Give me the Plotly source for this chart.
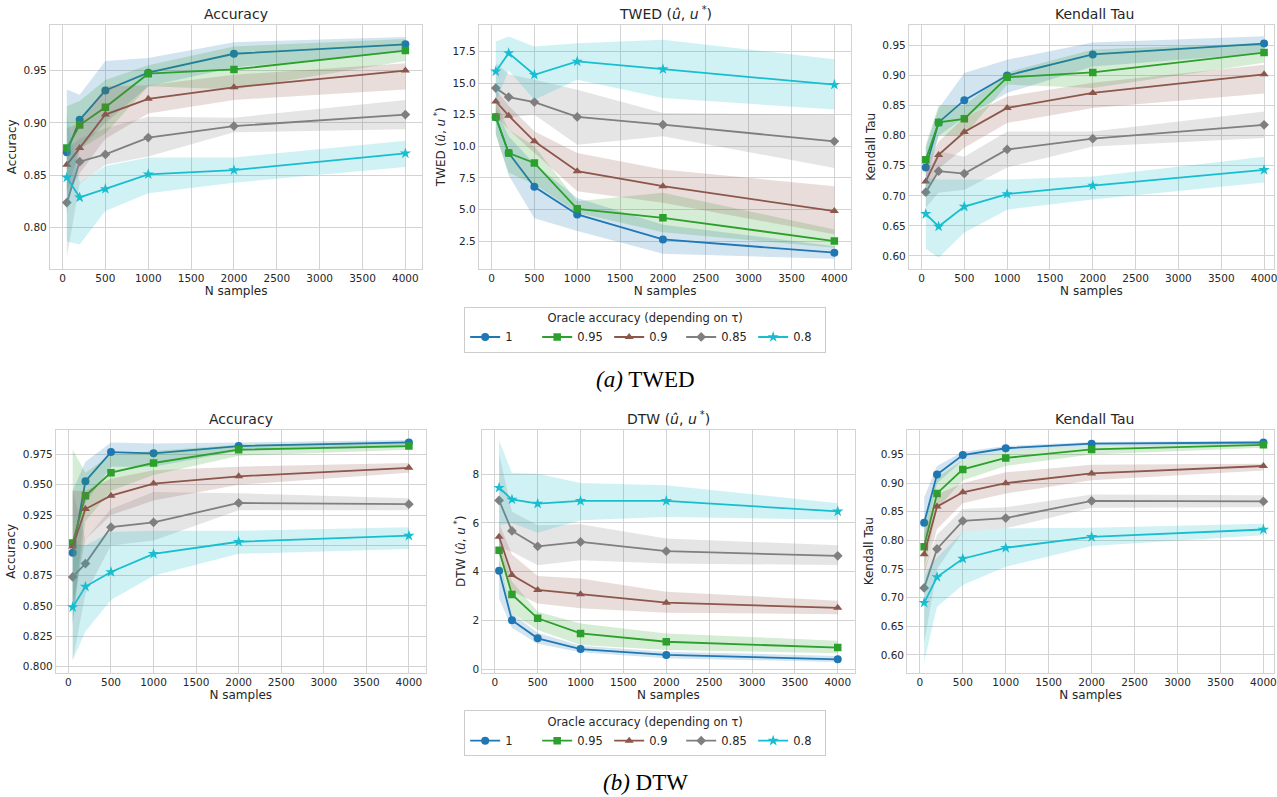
import plotly.graph_objects as go

# ---------------- data ----------------
N_SAMPLES = [50, 200, 500, 1000, 2000, 4000]
ORACLE_LABELS = ["1", "0.95", "0.9", "0.85", "0.8"]
X_TICKS = [0, 500, 1000, 1500, 2000, 2500, 3000, 3500, 4000]

# (a) TWED - Accuracy
TWED_ACC_MEAN = [
    [0.872, 0.903, 0.931, 0.948, 0.966, 0.975],
    [0.876, 0.898, 0.915, 0.947, 0.951, 0.969],
    [0.860, 0.876, 0.908, 0.923, 0.934, 0.950],
    [0.824, 0.863, 0.870, 0.886, 0.897, 0.908],
    [0.848, 0.829, 0.837, 0.851, 0.855, 0.871],
]
TWED_ACC_UPPER = [
    [0.932, 0.927, 0.959, 0.962, 0.977, 0.982],
    [0.916, 0.921, 0.941, 0.955, 0.973, 0.980],
    [0.895, 0.900, 0.935, 0.936, 0.946, 0.957],
    [0.875, 0.885, 0.895, 0.906, 0.905, 0.922],
    [0.909, 0.843, 0.859, 0.867, 0.867, 0.883],
]
TWED_ACC_LOWER = [
    [0.813, 0.875, 0.900, 0.935, 0.953, 0.968],
    [0.835, 0.875, 0.890, 0.935, 0.932, 0.959],
    [0.830, 0.852, 0.885, 0.909, 0.922, 0.932],
    [0.772, 0.842, 0.860, 0.868, 0.891, 0.894],
    [0.787, 0.784, 0.816, 0.833, 0.843, 0.858],
]
TWED_ACC_TICKS = [0.80, 0.85, 0.90, 0.95]

# (a) TWED - distance
TWED_DIST_MEAN = [
    [12.30, 9.47, 6.79, 4.61, 2.63, 1.58],
    [12.32, 9.47, 8.68, 5.05, 4.34, 2.50],
    [13.55, 12.42, 10.39, 8.03, 6.84, 4.87],
    [14.61, 13.89, 13.50, 12.32, 11.71, 10.39],
    [15.92, 17.37, 15.66, 16.71, 16.10, 14.87],
]
TWED_DIST_UPPER = [
    [13.0, 10.8, 8.6, 5.9, 3.8, 2.1],
    [13.5, 11.3, 10.0, 5.66, 6.32, 3.42],
    [14.5, 13.2, 11.18, 9.47, 8.16, 6.84],
    [16.58, 15.7, 15.26, 14.47, 12.63, 12.5],
    [18.29, 18.68, 17.9, 18.16, 18.42, 16.89],
]
TWED_DIST_LOWER = [
    [11.0, 7.7, 4.3, 3.3, 1.5, 1.1],
    [10.9, 7.9, 7.0, 4.74, 3.2, 1.97],
    [12.4, 11.3, 9.47, 6.45, 5.53, 3.03],
    [12.0, 12.3, 12.5, 10.13, 10.79, 8.29],
    [13.5, 16.0, 13.68, 15.26, 13.82, 12.9],
]
TWED_DIST_TICKS = [2.5, 5.0, 7.5, 10.0, 12.5, 15.0, 17.5]

# (a) TWED - Kendall Tau
TWED_KT_MEAN = [
    [0.747, 0.822, 0.859, 0.900, 0.935, 0.953],
    [0.760, 0.822, 0.828, 0.897, 0.905, 0.938],
    [0.724, 0.768, 0.806, 0.846, 0.871, 0.902],
    [0.706, 0.741, 0.737, 0.777, 0.795, 0.818],
    [0.670, 0.649, 0.682, 0.703, 0.717, 0.743],
]
TWED_KT_UPPER = [
    [0.780, 0.845, 0.904, 0.926, 0.955, 0.965],
    [0.785, 0.850, 0.850, 0.905, 0.943, 0.954],
    [0.750, 0.790, 0.830, 0.865, 0.888, 0.918],
    [0.735, 0.774, 0.765, 0.807, 0.807, 0.840],
    [0.730, 0.727, 0.727, 0.727, 0.732, 0.765],
]
TWED_KT_LOWER = [
    [0.715, 0.800, 0.830, 0.871, 0.915, 0.937],
    [0.735, 0.800, 0.800, 0.885, 0.879, 0.921],
    [0.700, 0.745, 0.780, 0.821, 0.846, 0.870],
    [0.680, 0.705, 0.710, 0.747, 0.782, 0.796],
    [0.612, 0.597, 0.639, 0.677, 0.694, 0.722],
]
KT_TICKS = [0.60, 0.65, 0.70, 0.75, 0.80, 0.85, 0.90, 0.95]

# (b) DTW - Accuracy
DTW_ACC_MEAN = [
    [0.894, 0.953, 0.977, 0.976, 0.982, 0.985],
    [0.902, 0.941, 0.960, 0.968, 0.979, 0.982],
    [0.899, 0.930, 0.941, 0.951, 0.957, 0.964],
    [0.874, 0.885, 0.915, 0.919, 0.935, 0.934],
    [0.849, 0.866, 0.878, 0.893, 0.903, 0.908],
]
DTW_ACC_UPPER = [
    [0.945, 0.969, 0.985, 0.984, 0.985, 0.987],
    [0.979, 0.960, 0.975, 0.978, 0.983, 0.985],
    [0.945, 0.945, 0.955, 0.962, 0.965, 0.968],
    [0.945, 0.905, 0.930, 0.944, 0.943, 0.939],
    [0.900, 0.900, 0.911, 0.912, 0.912, 0.915],
]
DTW_ACC_LOWER = [
    [0.835, 0.935, 0.965, 0.965, 0.978, 0.981],
    [0.835, 0.920, 0.945, 0.958, 0.974, 0.979],
    [0.850, 0.905, 0.925, 0.937, 0.950, 0.960],
    [0.805, 0.860, 0.900, 0.904, 0.929, 0.929],
    [0.805, 0.829, 0.855, 0.875, 0.893, 0.897],
]
DTW_ACC_TICKS = [0.800, 0.825, 0.850, 0.875, 0.900, 0.925, 0.950, 0.975]

# (b) DTW - distance
DTW_DIST_MEAN = [
    [4.04, 2.01, 1.27, 0.83, 0.59, 0.41],
    [4.88, 3.07, 2.09, 1.47, 1.13, 0.89],
    [5.43, 3.86, 3.25, 3.08, 2.73, 2.52],
    [6.92, 5.67, 5.04, 5.22, 4.84, 4.65],
    [7.44, 6.96, 6.79, 6.90, 6.90, 6.47],
]
DTW_DIST_UPPER = [
    [4.5, 2.3, 1.5, 0.97, 0.72, 0.55],
    [5.3, 3.6, 2.36, 1.88, 1.47, 1.17],
    [6.0, 4.7, 3.82, 3.72, 3.18, 2.81],
    [8.83, 6.46, 5.9, 5.94, 5.36, 5.08],
    [9.38, 8.04, 8.01, 7.63, 7.54, 6.81],
]
DTW_DIST_LOWER = [
    [2.9, 1.7, 1.05, 0.70, 0.45, 0.30],
    [4.3, 2.3, 1.61, 1.0, 0.79, 0.66],
    [4.7, 3.2, 2.70, 2.50, 2.32, 2.26],
    [5.0, 4.82, 4.26, 4.47, 4.34, 4.27],
    [5.9, 6.0, 5.6, 6.11, 6.24, 6.13],
]
DTW_DIST_TICKS = [0, 2, 4, 6, 8]

# (b) DTW - Kendall Tau
DTW_KT_MEAN = [
    [0.831, 0.915, 0.949, 0.961, 0.969, 0.971],
    [0.789, 0.882, 0.924, 0.944, 0.959, 0.967],
    [0.776, 0.859, 0.884, 0.900, 0.917, 0.930],
    [0.717, 0.785, 0.834, 0.839, 0.869, 0.868],
    [0.691, 0.736, 0.768, 0.787, 0.806, 0.819],
]
DTW_KT_UPPER = [
    [0.875, 0.930, 0.955, 0.965, 0.972, 0.974],
    [0.825, 0.910, 0.940, 0.955, 0.965, 0.970],
    [0.810, 0.880, 0.900, 0.919, 0.932, 0.934],
    [0.750, 0.810, 0.855, 0.858, 0.880, 0.879],
    [0.740, 0.770, 0.815, 0.821, 0.822, 0.829],
]
DTW_KT_LOWER = [
    [0.790, 0.900, 0.940, 0.955, 0.965, 0.968],
    [0.750, 0.855, 0.905, 0.930, 0.950, 0.962],
    [0.740, 0.820, 0.865, 0.882, 0.905, 0.922],
    [0.620, 0.750, 0.815, 0.821, 0.857, 0.858],
    [0.588, 0.684, 0.722, 0.754, 0.790, 0.809],
]

# ---------------- style ----------------
W, H = 1277, 797
COLORS = ["#1f77b4", "#2ca02c", "#8c564b", "#7f7f7f", "#17becf"]
FILLS = ["rgba(31,119,180,0.2)", "rgba(44,160,44,0.2)", "rgba(140,86,75,0.2)",
         "rgba(127,127,127,0.2)", "rgba(23,190,207,0.2)"]
SYMBOLS = ["circle", "square", "triangle-up", "diamond", "star"]
SIZES = [8, 7.5, 8, 7.5, 8.5]
FONT = "DejaVu Sans, Verdana, sans-serif"
TXT = "#262626"
GRID = "#d3d3d3"
TICK_SIZE = 10.5
LABEL_SIZE = 12
TITLE_SIZE = 14

panels = [
    dict(mean=TWED_ACC_MEAN, up=TWED_ACC_UPPER, lo=TWED_ACC_LOWER, title="Accuracy",
         ylabel="Accuracy", ticks=TWED_ACC_TICKS, fmt=".2f",
         px=(50, 423.3), py=(25, 269.3), xr=[-147.5, 4197.5], yr=[0.761, 0.9935], legend="legend"),
    dict(mean=TWED_DIST_MEAN, up=TWED_DIST_UPPER, lo=TWED_DIST_LOWER,
         title="TWED (<i>û</i>, <i>u</i><sup> *</sup>)", ylabel="TWED (<i>û</i>, <i>u</i><sup> *</sup>)",
         ticks=TWED_DIST_TICKS, fmt=".1f",
         px=(480, 853.3), py=(25, 269.3), xr=[-147.5, 4197.5], yr=[0.32, 19.6], legend=None),
    dict(mean=TWED_KT_MEAN, up=TWED_KT_UPPER, lo=TWED_KT_LOWER, title="Kendall Tau",
         ylabel="Kendall Tau", ticks=KT_TICKS, fmt=".2f",
         px=(911, 1277), py=(25, 269.3), xr=[-147.5, 4116], yr=[0.579, 0.984], legend=None),
    dict(mean=DTW_ACC_MEAN, up=DTW_ACC_UPPER, lo=DTW_ACC_LOWER, title="Accuracy",
         ylabel="Accuracy", ticks=DTW_ACC_TICKS, fmt=".3f",
         px=(56, 426.7), py=(431, 674.3), xr=[-147.5, 4197.5], yr=[0.795, 0.9953], legend="legend2"),
    dict(mean=DTW_DIST_MEAN, up=DTW_DIST_UPPER, lo=DTW_DIST_LOWER,
         title="DTW (<i>û</i>, <i>u</i><sup> *</sup>)", ylabel="DTW (<i>û</i>, <i>u</i><sup> *</sup>)",
         ticks=DTW_DIST_TICKS, fmt="d",
         px=(483.3, 856.7), py=(431, 674.3), xr=[-147.5, 4197.5], yr=[-0.135, 9.81], legend=None),
    dict(mean=DTW_KT_MEAN, up=DTW_KT_UPPER, lo=DTW_KT_LOWER, title="Kendall Tau",
         ylabel="Kendall Tau", ticks=KT_TICKS, fmt=".2f",
         px=(909.3, 1277), py=(431, 674.3), xr=[-147.5, 4123], yr=[0.569, 0.993], legend=None),
]

fig = go.Figure()
layout = {}
annotations = []

for i, p in enumerate(panels):
    n = i + 1
    xa = "x" if n == 1 else f"x{n}"
    ya = "y" if n == 1 else f"y{n}"
    for s in range(5):
        xs = N_SAMPLES + N_SAMPLES[::-1]
        ys = p["up"][s] + p["lo"][s][::-1]
        fig.add_trace(go.Scatter(x=xs, y=ys, xaxis=xa, yaxis=ya, fill="toself",
                                 fillcolor=FILLS[s], line=dict(width=0), mode="lines",
                                 hoverinfo="skip", showlegend=False))
        tr = dict(x=N_SAMPLES, y=p["mean"][s], xaxis=xa, yaxis=ya, mode="lines+markers",
                  name=ORACLE_LABELS[s],
                  line=dict(color=COLORS[s], width=1.8),
                  marker=dict(symbol=SYMBOLS[s], size=SIZES[s], color=COLORS[s]))
        if p["legend"]:
            tr["legend"] = p["legend"]
            tr["showlegend"] = True
        else:
            tr["showlegend"] = False
        fig.add_trace(go.Scatter(**tr))

    xdom = [p["px"][0] / W, min(p["px"][1] / W, 1.0)]
    ydom = [1 - p["py"][1] / H, 1 - p["py"][0] / H]
    xkey = "xaxis" if n == 1 else f"xaxis{n}"
    ykey = "yaxis" if n == 1 else f"yaxis{n}"
    layout[xkey] = dict(domain=xdom, range=p["xr"], anchor=ya, tickmode="array",
                        tickvals=X_TICKS, showgrid=True, gridcolor=GRID, gridwidth=1,
                        zeroline=False, showline=True, mirror=True, linecolor=GRID, linewidth=1,
                        ticks="", ticklabeloverflow="allow",
                        tickfont=dict(size=TICK_SIZE, color=TXT, family=FONT),
                        title=dict(text="N samples", font=dict(size=LABEL_SIZE, color=TXT, family=FONT),
                                   standoff=1))
    layout[ykey] = dict(domain=ydom, range=p["yr"], anchor=xa, tickmode="array",
                        tickvals=p["ticks"], tickformat=p["fmt"], showgrid=True, gridcolor=GRID,
                        gridwidth=1, zeroline=False, showline=True, mirror=True, linecolor=GRID,
                        linewidth=1, ticks="", tickfont=dict(size=TICK_SIZE, color=TXT, family=FONT),
                        title=dict(text=p["ylabel"], font=dict(size=LABEL_SIZE, color=TXT, family=FONT),
                                   standoff=4))
    right_px = 1284 if n in (3, 6) else p["px"][1]
    annotations.append(dict(text=p["title"], xref="paper", yref="paper",
                            x=(p["px"][0] + right_px) / 2 / W,
                            y=ydom[1], xanchor="center", yanchor="bottom", yshift=1,
                            showarrow=False, font=dict(size=TITLE_SIZE, color=TXT, family=FONT)))

SERIF = "Liberation Serif, Times New Roman, serif"
annotations.append(dict(text="<i>(a)</i> TWED", xref="paper", yref="paper", x=646.7 / W,
                        y=1 - 380 / H, xanchor="center", yanchor="middle", showarrow=False,
                        font=dict(size=23, color="#000000", family=SERIF)))
annotations.append(dict(text="<i>(b)</i> DTW", xref="paper", yref="paper", x=646.7 / W,
                        y=1 - 784 / H, xanchor="center", yanchor="middle", showarrow=False,
                        font=dict(size=23, color="#000000", family=SERIF)))

legend_style = dict(orientation="h", xanchor="center", x=646.7 / W, yanchor="top",
                    bgcolor="white", bordercolor="#cccccc", borderwidth=1,
                    font=dict(size=11.5, color=TXT, family=FONT), itemwidth=30,
                    entrywidth=27, tracegroupgap=0,
                    title=dict(text="Oracle accuracy (depending on τ)", side="top center",
                               font=dict(size=11.5, color=TXT, family=FONT)))

fig.update_layout(
    width=W, height=H, margin=dict(l=0, r=0, t=0, b=0),
    paper_bgcolor="white", plot_bgcolor="white",
    font=dict(family=FONT, color=TXT),
    annotations=annotations,
    legend=dict(legend_style, y=1 - 307.3 / H),
    legend2=dict(legend_style, y=1 - 712 / H),
    **layout,
)

fig.write_html("out.html")
